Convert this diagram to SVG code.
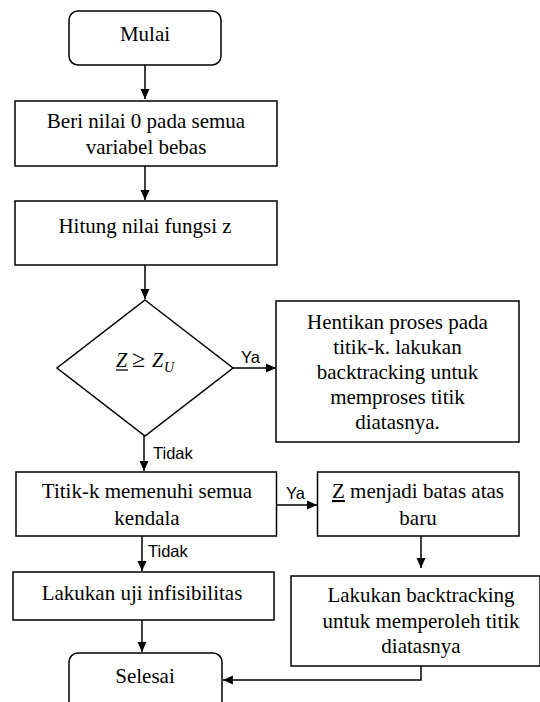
<svg xmlns="http://www.w3.org/2000/svg" width="540" height="702" viewBox="0 0 540 702">
<style>
.box{fill:#fff;stroke:#000;stroke-width:1.5}
.t{font-family:"Liberation Serif","Times New Roman",serif;font-size:21px;fill:#000;text-anchor:middle}
.m{font-family:"Liberation Serif","Times New Roman",serif;font-style:italic;font-size:20px;fill:#000}
.lbl{font-family:"Liberation Sans",Arial,sans-serif;font-size:16.5px;fill:#000}
.c{fill:none;stroke:#000;stroke-width:1.5}
</style>
<defs>
<marker id="ah" markerUnits="userSpaceOnUse" markerWidth="10" markerHeight="10" viewBox="0 0 10 10" refX="10" refY="5" orient="auto">
<path d="M0,0.5 L10,5 L0,9.5 Z" fill="#000"/>
</marker>
</defs>
<rect width="540" height="702" fill="#fff"/>

<g id="mulai">
<rect class="box" x="69" y="11" width="152" height="54" rx="9"/>
<text class="t" x="145" y="41">Mulai</text>
</g>
<g id="beri">
<rect class="box" x="15" y="101" width="262" height="65"/>
<text class="t" x="146" y="128">Beri nilai 0 pada semua</text>
<text class="t" x="146" y="154">variabel bebas</text>
</g>
<g id="hitung">
<rect class="box" x="15" y="201" width="262" height="64"/>
<text class="t" x="145" y="233">Hitung nilai fungsi z</text>
</g>
<g id="cek">
<path class="box" d="M145,300 L233,368 L145,436 L57,368 Z"/>
<text class="m" y="367"><tspan x="116">Z</tspan><tspan x="132" font-style="normal" font-size="24">≥</tspan><tspan x="152">Z</tspan><tspan x="164" y="372" font-size="14">U</tspan></text>
<line x1="116" y1="370" x2="128" y2="370" stroke="#000" stroke-width="1.3"/>
</g>
<g id="hentikan">
<rect class="box" x="276" y="301" width="243" height="141"/>
<text class="t" x="397.5" y="329">Hentikan proses pada</text>
<text class="t" x="397.5" y="354">titik-k. lakukan</text>
<text class="t" x="397.5" y="379">backtracking untuk</text>
<text class="t" x="397.5" y="404">memproses titik</text>
<text class="t" x="397.5" y="429">diatasnya.</text>
</g>
<g id="titik">
<rect class="box" x="16" y="472" width="260.5" height="64"/>
<text class="t" x="147" y="498">Titik-k memenuhi semua</text>
<text class="t" x="147" y="525">kendala</text>
</g>
<g id="batas">
<rect class="box" x="317.5" y="472" width="201.5" height="64"/>
<text class="t" x="418" y="498"><tspan text-decoration="underline">Z</tspan> menjadi batas atas</text>
<text class="t" x="418" y="525">baru</text>
</g>
<g id="uji">
<rect class="box" x="13" y="572" width="261" height="48"/>
<text class="t" x="142" y="600">Lakukan uji infisibilitas</text>
</g>
<g id="backtrack">
<rect class="box" x="291" y="576" width="249" height="90"/>
<text class="t" x="421" y="602">Lakukan backtracking</text>
<text class="t" x="421" y="628">untuk memperoleh titik</text>
<text class="t" x="421" y="653">diatasnya</text>
</g>
<g id="selesai">
<rect class="box" x="69" y="653" width="153" height="62" rx="9"/>
<text class="t" x="145" y="683">Selesai</text>
</g>

<g id="connectors">
<line class="c" x1="145" y1="65" x2="145" y2="99" marker-end="url(#ah)"/>
<line class="c" x1="145" y1="166" x2="145" y2="200" marker-end="url(#ah)"/>
<line class="c" x1="145" y1="265" x2="145" y2="299" marker-end="url(#ah)"/>
<line class="c" x1="233" y1="368" x2="276" y2="368" marker-end="url(#ah)"/>
<line class="c" x1="144" y1="436" x2="144" y2="471" marker-end="url(#ah)"/>
<line class="c" x1="276.5" y1="505" x2="317" y2="505" marker-end="url(#ah)"/>
<line class="c" x1="142" y1="536" x2="142" y2="571" marker-end="url(#ah)"/>
<line class="c" x1="421" y1="536" x2="421" y2="568" marker-end="url(#ah)"/>
<line class="c" x1="142" y1="620" x2="142" y2="652" marker-end="url(#ah)"/>
<polyline class="c" points="421,666 421,680 223,680" marker-end="url(#ah)"/>
<text class="lbl" x="241" y="363">Ya</text>
<text class="lbl" x="153" y="459">Tidak</text>
<text class="lbl" x="286" y="499">Ya</text>
<text class="lbl" x="148" y="557">Tidak</text>
</g>
</svg>
